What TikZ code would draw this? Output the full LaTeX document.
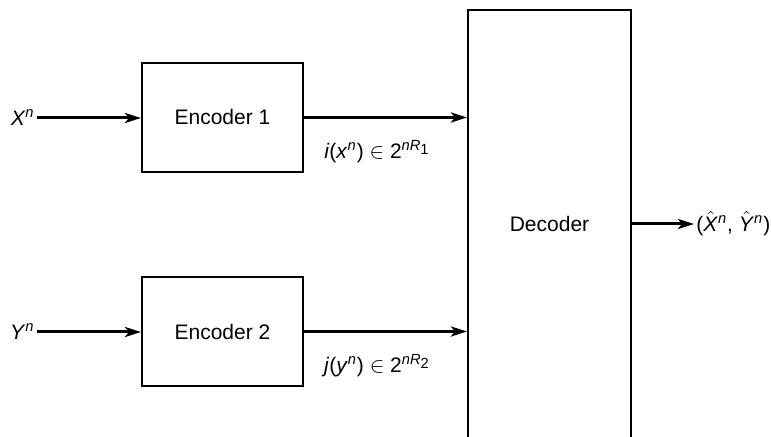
\documentclass[tikz,border=0pt]{standalone}
\usepackage{fontspec}
\setmainfont{Liberation Sans}
\usepackage{tikz}
\usetikzlibrary{arrows.meta}
\def\it#1{\textit{#1}}
\def\hatit#1{$\hat{\mbox{\it{#1}}}$}

\tikzset{
  blk/.style={draw,line width=1pt,minimum width=80.5pt,minimum height=54.5pt,inner sep=0pt},
  sig/.style={line width=1.5pt,-{Stealth[length=8pt,width=5pt,inset=2pt]}},
  lbl/.style={inner sep=1pt}
}

\begin{document}
\begin{tikzpicture}[x=0.5pt,y=-0.5pt,font=\fontsize{10.5}{12}\selectfont]
  \clip (0,0) rectangle (771,437);
  \node[blk] (enc1) at (222.5,117.5) {Encoder 1\hspace{5pt}};
  \node[blk] (enc2) at (222.5,331.5) {Encoder 2\hspace{5pt}};
  \node[blk,minimum width=81.5pt,minimum height=214pt] (dec) at (549.5,224) {Decoder};
  \node[lbl,anchor=east] (xin) at (37,118) {\it{X}\textsuperscript{\it{n}}};
  \node[lbl,anchor=east] (yin) at (37,332) {\it{Y}\textsuperscript{\it{n}}};
  \node[lbl] (ix) at (377,152) {\it{i}(\it{x}\textsuperscript{\it{n}}) $\in$ 2\textsuperscript{\it{nR}\raisebox{-0.45ex}{1}}};
  \node[lbl] (jy) at (377,366) {\it{j}(\it{y}\textsuperscript{\it{n}}) $\in$ 2\textsuperscript{\it{nR}\raisebox{-0.45ex}{2}}};
  \node[lbl,anchor=west] (out) at (694,224) {(\hatit{X}\textsuperscript{\it{n}}, \hatit{Y}\textsuperscript{\it{n}})};
  \draw[sig] (xin.east) -- (xin.east -| enc1.west);
  \draw[sig] (yin.east) -- (yin.east -| enc2.west);
  \draw[sig] (enc1.east) -- (enc1.east -| dec.west);
  \draw[sig] (enc2.east) -- (enc2.east -| dec.west);
  \draw[sig] (dec.east) -- (out.west);
\end{tikzpicture}
\end{document}
